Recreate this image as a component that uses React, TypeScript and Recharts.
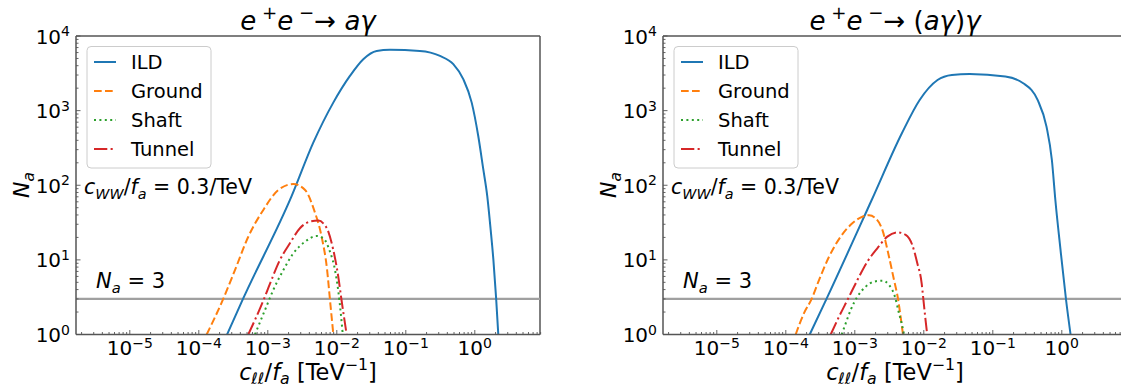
import React from 'react';
import { LineChart, Line, XAxis, YAxis, ReferenceLine } from 'recharts';

// points: [c_ll/f_a in TeV^-1, N_a]
const ildLeft: [number, number][] = [
  [2.57e-4, 1], [4.37e-4, 3], [2.22e-3, 72], [4.56e-3, 372], [8.89e-3, 1280], [1.55e-2, 2920],
  [2.42e-2, 4890], [3.78e-2, 6310], [5.89e-2, 6520], [0.16, 6310], [0.313, 5410], [0.488, 4190],
  [0.681, 2640], [0.902, 1280], [1.122, 457], [1.327, 164], [1.514, 72], [1.7, 25], [1.86, 10],
  [2.04, 3], [2.19, 1],
];
const groundLeft: [number, number][] = [
  [1.3e-4, 1], [2.26e-4, 3], [3.34e-4, 7.3], [5.21e-4, 20.4], [8.61e-4, 46.7], [1.42e-3, 86.5],
  [2.34e-3, 104], [3.47e-3, 86.5], [4.68e-3, 46.7], [6.03e-3, 20.4], [7.24e-3, 7.3], [7.94e-3, 3],
  [8.91e-3, 1],
];
const shaftLeft: [number, number][] = [
  [6.52e-4, 1], [9.1e-4, 2.13], [1.2e-3, 3.95], [1.68e-3, 7.3], [2.34e-3, 12.2], [3.46e-3, 17.5],
  [5.11e-3, 20.9], [6.37e-3, 19.5], [7.96e-3, 12.9], [9.42e-3, 7.3], [1.09e-2, 2.9], [1.22e-2, 1],
];
const tunnelLeft: [number, number][] = [
  [5.21e-4, 1], [8.81e-4, 3], [1.08e-3, 4.85], [1.5e-3, 10], [2.09e-3, 16.7], [2.92e-3, 26.5],
  [4.08e-3, 32.6], [5.4e-3, 33.6], [6.37e-3, 30.9], [7.53e-3, 23.9], [8.89e-3, 13.6],
  [1.05e-2, 5.96], [1.17e-2, 2.9], [1.39e-2, 1],
];

const ildRight: [number, number][] = [
  [2.22e-4, 1], [3.89e-4, 3], [1.75e-3, 63], [4.81e-3, 498], [8.71e-3, 1390], [1.58e-2, 2570],
  [2.55e-2, 3006], [4.62e-2, 3090], [0.152, 2860], [0.276, 2330], [0.446, 1390], [0.6, 610],
  [0.718, 218], [0.807, 63], [0.955, 14], [1.153, 2.9], [1.34, 1],
];
const groundRight: [number, number][] = [
  [1.39e-4, 1], [1.83e-4, 1.92], [2.37e-4, 3], [3.03e-4, 5.37], [4.23e-4, 11], [6.24e-4, 20.5],
  [9.2e-4, 30.9], [1.29e-3, 37.9], [1.61e-3, 39.6], [2.0e-3, 36.1], [2.51e-3, 25.2],
  [3.13e-3, 11], [3.7e-3, 5.37], [4.23e-3, 3], [4.61e-3, 1.73], [4.99e-3, 1],
];
const shaftRight: [number, number][] = [
  [6.46e-4, 1], [7.38e-4, 1.41], [8.71e-4, 2.13], [1.09e-3, 3.21], [1.44e-3, 4.38], [1.9e-3, 5.11],
  [2.51e-3, 5.26], [3.13e-3, 4.61], [3.82e-3, 3.21], [4.37e-3, 1.92], [4.78e-3, 1.41], [5.16e-3, 1],
];
const tunnelRight: [number, number][] = [
  [4.47e-4, 1], [5.9e-4, 1.73], [7.96e-4, 3], [1.09e-3, 5.37], [1.52e-3, 9.46], [2.12e-3, 14.3],
  [2.96e-3, 20.5], [4.13e-3, 23.4], [5.46e-3, 21.6], [6.81e-3, 15.8], [8.05e-3, 9.0],
  [9.31e-3, 4.85], [9.84e-3, 3], [1.06e-2, 1.56], [1.12e-2, 1],
];

const seriesNames = ['ILD', 'Ground', 'Shaft', 'Tunnel'];
const seriesColors = ['#1f77b4', '#ff7f0e', '#2ca02c', '#d62728'];
const seriesDash = [undefined, '7.7 3.3', '2 3.4', '13.3 3.3 2.1 3.3'];

const X_MIN = 1.66e-6;
const N_LIMIT = 3;

const FONT = '"DejaVu Sans", sans-serif';
const H = 390;
const PLOT_TOP = 36;
const PLOT_BOTTOM = 334.5;
const Y_AXIS_W = 56;
const X_AXIS_H = 30;
const TICK_FS = 20;
const SUP_FS = 14;

// decade ticks plus the minor ones in between
const xTicks: number[] = [];
for (let e = -6; e <= 0; e++) for (let m = 1; m <= 9; m++) {
  const v = m * Math.pow(10, e);
  if (v >= X_MIN && v <= 9) xTicks.push(v);
}
const yTicks: number[] = [];
for (let e = 0; e <= 3; e++) for (let m = 1; m <= 9; m++) yTicks.push(m * Math.pow(10, e));
yTicks.push(1e4);

const isMajor = (v: number) => Math.abs(Math.log10(v) - Math.round(Math.log10(v))) < 1e-6;
const expText = (v: number) => {
  const e = Math.round(Math.log10(v));
  return e < 0 ? '\u2212' + Math.abs(e) : String(e);
};

const XTick = (props: any) => {
  const { x, y, payload } = props;
  const v = payload.value;
  const major = isMajor(v);
  return (
    <g>
      <line x1={x} x2={x} y1={y} y2={y - (major ? 4.5 : 2.5)} stroke="#555" strokeWidth={0.9} />
      {major && (
        <text x={x} y={y + 20.5} textAnchor="middle" fontSize={TICK_FS} fontFamily={FONT} fill="#000">
          10<tspan dy={-7.5} fontSize={SUP_FS}>{expText(v)}</tspan>
        </text>
      )}
    </g>
  );
};

const YTick = (props: any) => {
  const { x, y, payload } = props;
  const v = payload.value;
  const major = isMajor(v);
  return (
    <g>
      <line x1={x} x2={x + (major ? 4.5 : 2.5)} y1={y} y2={y} stroke="#555" strokeWidth={0.9} />
      {major && (
        <text x={x - 6} y={y + 7.5} textAnchor="end" fontSize={TICK_FS} fontFamily={FONT} fill="#000">
          10<tspan dy={-7.5} fontSize={SUP_FS}>{expText(v)}</tspan>
        </text>
      )}
    </g>
  );
};

type Seg = { t: string; i?: boolean; s?: 'sub' | 'sup' };

function MathText({ x, y, size, segs, anchor = 'start', rotate }: {
  x: number; y: number; size: number; segs: Seg[]; anchor?: string; rotate?: number;
}) {
  let shift = 0;
  const spans = segs.map((sg, k) => {
    const target = sg.s === 'sub' ? size * 0.22 : sg.s === 'sup' ? -size * 0.42 : 0;
    const dy = target - shift;
    shift = target;
    return (
      <tspan key={k} dy={dy} fontStyle={sg.i ? 'italic' : 'normal'} fontSize={sg.s ? size * 0.7 : size}>
        {sg.t}
      </tspan>
    );
  });
  return (
    <text
      x={x}
      y={y}
      textAnchor={anchor as any}
      fontFamily={FONT}
      fontSize={size}
      fill="#000"
      style={{ whiteSpace: 'pre' }}
      transform={rotate ? `rotate(${rotate} ${x} ${y})` : undefined}
    >
      {spans}
    </text>
  );
}

const xLabel: Seg[] = [
  { t: 'c', i: true }, { t: '\u2113\u2113', i: true, s: 'sub' }, { t: '/' }, { t: 'f', i: true },
  { t: 'a', i: true, s: 'sub' }, { t: ' [TeV' }, { t: '\u22121', s: 'sup' }, { t: ']' },
];
const yLabel: Seg[] = [{ t: 'N', i: true }, { t: 'a', i: true, s: 'sub' }];
const cwwNote: Seg[] = [
  { t: 'c', i: true }, { t: 'WW', i: true, s: 'sub' }, { t: '/' }, { t: 'f', i: true },
  { t: 'a', i: true, s: 'sub' }, { t: ' = 0.3/TeV' },
];
const naNote: Seg[] = [{ t: 'N', i: true }, { t: 'a', i: true, s: 'sub' }, { t: ' = 3' }];
const titleLeft: Seg[] = [
  { t: 'e', i: true }, { t: ' +', s: 'sup' }, { t: 'e', i: true }, { t: ' \u2212', s: 'sup' },
  { t: '\u2192 ' }, { t: 'a\u03b3', i: true },
];
const titleRight: Seg[] = [
  { t: 'e', i: true }, { t: ' +', s: 'sup' }, { t: 'e', i: true }, { t: ' \u2212', s: 'sup' },
  { t: '\u2192 (' }, { t: 'a\u03b3', i: true }, { t: ')' }, { t: '\u03b3', i: true },
];

type PanelProps = {
  left: number;
  width: number;
  plotLeft: number;
  xMax: number;
  rightSpine: boolean;
  data: [number, number][][];
};

function Panel({ left, width, plotLeft, xMax, rightSpine, data }: PanelProps) {
  return (
    <div style={{ position: 'absolute', left, top: 0 }}>
      <LineChart
        width={width}
        height={H}
        margin={{
          top: PLOT_TOP,
          right: rightSpine ? 20 : 0,
          bottom: H - PLOT_BOTTOM - X_AXIS_H,
          left: plotLeft - left - Y_AXIS_W,
        }}
      >
        <XAxis
          type="number"
          dataKey="x"
          scale="log"
          domain={[X_MIN, xMax]}
          allowDataOverflow
          ticks={xTicks}
          interval={0}
          tick={<XTick />}
          tickLine={false}
          tickSize={0}
          tickMargin={0}
          height={X_AXIS_H}
          axisLine={{ stroke: '#555', strokeWidth: 1.5 }}
        />
        <YAxis
          type="number"
          scale="log"
          domain={[1, 1e4]}
          allowDataOverflow
          ticks={yTicks}
          interval={0}
          tick={<YTick />}
          tickLine={false}
          tickSize={0}
          tickMargin={0}
          width={Y_AXIS_W}
          axisLine={{ stroke: '#555', strokeWidth: 1.5 }}
        />
        <ReferenceLine y={1e4} stroke="#000" strokeWidth={1.2} />
        {rightSpine && <ReferenceLine x={xMax} stroke="#555" strokeWidth={1.5} />}
        <ReferenceLine y={N_LIMIT} stroke="#a0a0a0" strokeWidth={2.2} />
        {data.map((pts, k) => (
          <Line
            key={seriesNames[k]}
            name={seriesNames[k]}
            data={pts.map(([x, y]) => ({ x, y }))}
            dataKey="y"
            type="monotone"
            stroke={seriesColors[k]}
            strokeWidth={2}
            strokeDasharray={seriesDash[k]}
            dot={false}
            activeDot={false}
            isAnimationActive={false}
          />
        ))}
      </LineChart>
    </div>
  );
}

function Decor({ plotLeft, plotRight, title }: { plotLeft: number; plotRight: number; title: Seg[] }) {
  const cx = (plotLeft + plotRight) / 2;
  const rows = [62, 91, 120, 149];
  return (
    <g>
      <MathText x={cx} y={30} size={26} segs={title} anchor="middle" />
      <MathText x={cx} y={379.5} size={22.5} segs={xLabel} anchor="middle" />
      <MathText x={plotLeft - 47} y={185} size={22} segs={yLabel} anchor="middle" rotate={-90} />
      <MathText x={plotLeft + 8} y={194} size={20.5} segs={cwwNote} />
      <MathText x={plotLeft + 20} y={288} size={21} segs={naNote} />
      <rect x={plotLeft + 11} y={46.5} width={124} height={121.5} rx={4} fill="#fff" fillOpacity={0.8} stroke="#ccc" />
      {seriesNames.map((n, k) => (
        <g key={n}>
          <line
            x1={plotLeft + 18}
            x2={plotLeft + 40}
            y1={rows[k]}
            y2={rows[k]}
            stroke={seriesColors[k]}
            strokeWidth={2}
            strokeDasharray={seriesDash[k]}
          />
          <text x={plotLeft + 55} y={rows[k] + 7} fontSize={19.5} fontFamily={FONT} fill="#000">{n}</text>
        </g>
      ))}
    </g>
  );
}

export default function App() {
  return (
    <div style={{ position: 'absolute', left: 0, top: 0, width: 1121, height: H, background: '#fff', overflow: 'hidden' }}>
      <Panel
        left={0}
        width={560}
        plotLeft={76}
        xMax={8.81}
        rightSpine
        data={[ildLeft, groundLeft, shaftLeft, tunnelLeft]}
      />
      <Panel
        left={580}
        width={541}
        plotLeft={663}
        xMax={7.21}
        rightSpine={false}
        data={[ildRight, groundRight, shaftRight, tunnelRight]}
      />
      <svg width={1121} height={H} style={{ position: 'absolute', left: 0, top: 0, pointerEvents: 'none' }}>
        <Decor plotLeft={76} plotRight={540} title={titleLeft} />
        <Decor plotLeft={663} plotRight={1127} title={titleRight} />
      </svg>
    </div>
  );
}
